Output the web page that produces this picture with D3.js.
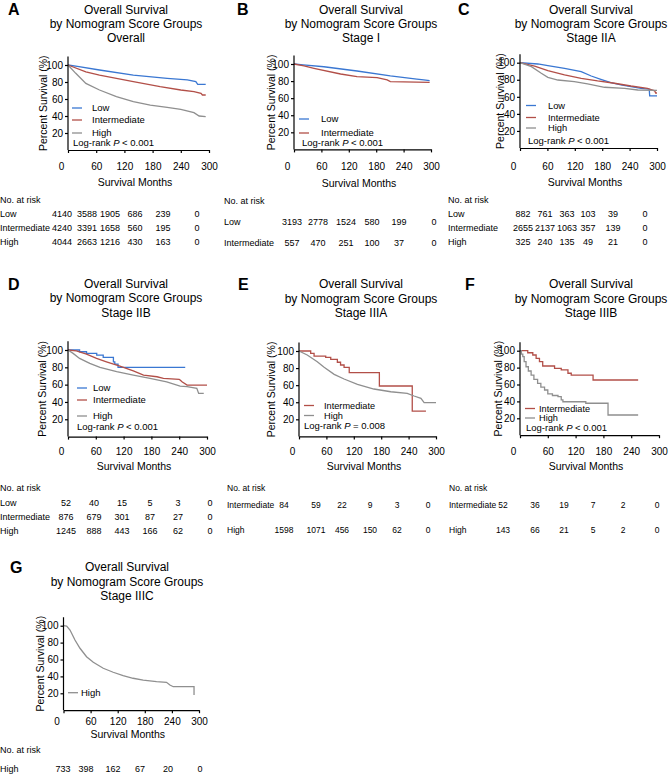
<!DOCTYPE html>
<html><head><meta charset="utf-8">
<script src="https://cdn.jsdelivr.net/npm/d3@7"></script>
<style>body{margin:0;background:#fff} svg{font-family:"Liberation Sans",Arial,sans-serif}</style>
</head><body><svg id="c" width="671" height="775"></svg>
<script>
// ---------- DATA ----------
const monthTicks = [0, 60, 120, 180, 240, 300];
const pctTicks = [20, 40, 60, 80, 100];
const titleLine1 = "Overall Survival";
const titleLine2 = "by Nomogram Score Groups";
const subtitles = ["Overall", "Stage I", "Stage IIA", "Stage IIB", "Stage IIIA", "Stage IIIB", "Stage IIIC"];
const panelLetters = ["A", "B", "C", "D", "E", "F", "G"];
const pValues = ["< 0.001", "< 0.001", "< 0.001", "< 0.001", "= 0.008", "< 0.001", null];
const groupNames = ["Low", "Intermediate", "High"];

// survival curves: [month, percent]
const A_low  = [[0,100],[20,98.5],[67,94.1],[139,88.2],[211,84.3],[254,82.4],[272,80.4],[276,77.3],[293,77.3]];
const A_int  = [[0,100],[38,92],[67,88.2],[139,80.4],[196,74.5],[240,70.6],[268,68.6],[283,66.7],[286,64.7],[293,64.7]];
const A_high = [[0,100],[16.5,90.2],[38,78.4],[67,70.6],[103,62.7],[139,56.9],[175,52.9],[211,50.2],[240,47.8],[268,43.9],[279,40],[293,39.2]];

const B_low  = [[0,100],[20,99],[65.5,96.8],[138,91.8],[211,86],[269,82.4],[284,81.3],[297,80.5]];
const B_int  = [[0,100],[22,97.7],[43.7,95],[102,88.3],[138,85.2],[182,84],[204,81.3],[211,79.3],[297,78.5]];

const C_low  = [[0,100],[39,98.5],[61,96.5],[97.5,93.4],[134,89.5],[156,84.4],[177,80.5],[199,76.6],[221,73.9],[265,70],[283,68.9],[284,61],[300,61]];
const C_int  = [[0,100],[32,96.1],[61,90.6],[97.5,85.6],[134,81.7],[170,78.6],[207,75.9],[243,72.7],[279,70],[295,67],[297,64.5],[300,64.5]];
const C_high = [[0,100],[25,95.3],[46.6,87.6],[61,82.9],[83,79.7],[119,77.8],[148,75.1],[185,71.2],[229,70],[258,68],[300,67.5]];

const D_low  = [[0,100],[25,98],[40,96],[62,94],[76,91.5],[98,86.4],[101,83.7],[108,80],[253,80]];
const D_int  = [[0,100],[18,99],[40,95.3],[61.6,90.3],[83,86.4],[112,81.4],[141,76],[163,71.1],[192,69.1],[206,67.2],[240,66],[242,65.3],[246,63.3],[257,59.5],[300,59.5]];
const D_high = [[0,100],[11,96.1],[25,90.3],[47,84.5],[69,79.9],[105,74.9],[141,71.1],[177,67.2],[213,63.3],[242,58.4],[257,57.6],[278,55.7],[282,49.9],[293,49.9]];

const E_int  = [[0,100],[25.6,97.3],[33,94.1],[58.5,92.6],[69.5,90.3],[84,86.8],[91,83.6],[98.7,80.9],[110,74.6],[176,59],[248,29.7],[278,29.7]];
const E_high = [[0,100],[18,95.3],[40,87.5],[55,80.9],[77,72.7],[98.7,67.2],[128,61],[164,55.5],[201,52.3],[237,50.4],[252,47.3],[267,44.6],[274,39.5],[300,39.5]];

const F_int  = [[0,100],[16.7,97.6],[27.6,94.9],[34.8,91],[42,87],[49,81.9],[74.6,79.2],[89,77.2],[103.5,73.3],[110.6,71.2],[157.7,65.3],[255,65.3]];
const F_high = [[0,100],[3,96],[6,92.9],[9,87],[13,81],[18,76],[24,71.2],[30,66],[38,61.4],[45,57],[53,53.5],[60,48.8],[70,47],[82,45.6],[89,41.7],[92.6,39.6],[142,37.8],[190,23.9],[255,23.9]];

const G_high = [[0,100],[7,99.6],[14.4,94.9],[25.4,83.1],[36.5,73.3],[51,63.3],[66,56.7],[88,49.6],[110,44.9],[132,40.8],[154,37.8],[176.5,35.7],[206,33.7],[228,33],[235.6,29.8],[243,27.8],[289,27.8],[289,18]];

// numbers at risk at monthTicks
const A_risk_low  = [4140, 3588, 1905, 686, 239, 0];
const A_risk_int  = [4240, 3391, 1658, 560, 195, 0];
const A_risk_high = [4044, 2663, 1216, 430, 163, 0];
const B_risk_low  = [3193, 2778, 1524, 580, 199, 0];
const B_risk_int  = [557, 470, 251, 100, 37, 0];
const C_risk_low  = [882, 761, 363, 103, 39, 0];
const C_risk_int  = [2655, 2137, 1063, 357, 139, 0];
const C_risk_high = [325, 240, 135, 49, 21, 0];
const D_risk_low  = [52, 40, 15, 5, 3, 0];
const D_risk_int  = [876, 679, 301, 87, 27, 0];
const D_risk_high = [1245, 888, 443, 166, 62, 0];
const E_risk_int  = [84, 59, 22, 9, 3, 0];
const E_risk_high = [1598, 1071, 456, 150, 62, 0];
const F_risk_int  = [52, 36, 19, 7, 2, 0];
const F_risk_high = [143, 66, 21, 5, 2, 0];
const G_risk_high = [733, 398, 162, 67, 20, 0];

// ---------- STYLE / LAYOUT ----------
const COLORS = {Low: "#3a77d2", Intermediate: "#b24f48", High: "#8f8f8f"};

const panels = [
  {i:0, lx:8,   ly:9,   tcx:126, ty:[10,24,38],   x0:68,  x1:209, y100:65,   y0:150,
   ytx:43, series:[["Low",A_low,"l"],["Intermediate",A_int,"l"],["High",A_high,"l"]],
   leg:{lx:72, tx:92, ys:[108,120,133], fs:9.5}, lr:{x:73,y:143},
   tickY:166, smY:182, narY:200, rowX:0, rowYs:[214,228,242], cols:[62,87,110,135,163,197], tf:9,
   risk:[["Low",A_risk_low],["Intermediate",A_risk_int],["High",A_risk_high]]},
  {i:1, lx:237, ly:9,   tcx:361, ty:[10,23.5,38], x0:294, x1:431, y100:64,   y0:149.4,
   ytx:271, series:[["Low",B_low,"l"],["Intermediate",B_int,"l"]],
   leg:{lx:299, tx:321, ys:[119,133], fs:9.5}, lr:{x:302,y:143},
   tickY:166, smY:183, narY:201, rowX:224, rowYs:[222,243], cols:[292,318,346,372,399,434], tf:9,
   risk:[["Low",B_risk_low],["Intermediate",B_risk_int]]},
  {i:2, lx:458, ly:9,   tcx:591, ty:[10,24,38],   x0:520, x1:657, y100:62.7, y0:148,
   ytx:500, series:[["Low",C_low,"l"],["Intermediate",C_int,"l"],["High",C_high,"l"]],
   leg:{lx:526, tx:548, ys:[105.5,117.5,128], fs:9.3}, lr:{x:528,y:141},
   tickY:166, smY:182, narY:200, rowX:448, rowYs:[214,228,242], cols:[523,545,567,588,613,645], tf:9,
   risk:[["Low",C_risk_low],["Intermediate",C_risk_int],["High",C_risk_high]]},
  {i:3, lx:8,   ly:284, tcx:126, ty:[284,298,313], x0:68, x1:207, y100:350, y0:436.6,
   ytx:42, series:[["Low",D_low,"s"],["Intermediate",D_int,"l"],["High",D_high,"l"]],
   leg:{lx:77, tx:93, ys:[388,400,416], fs:9.5}, lr:{x:77,y:427},
   tickY:451, smY:466, narY:488, rowX:0, rowYs:[503,517,531], cols:[66,94,122,150,178,210], tf:9,
   risk:[["Low",D_risk_low],["Intermediate",D_risk_int],["High",D_risk_high]]},
  {i:4, lx:238, ly:284, tcx:361, ty:[284,299,313], x0:299, x1:436, y100:351, y0:436.4,
   ytx:271, series:[["Intermediate",E_int,"s"],["High",E_high,"l"]],
   leg:{lx:304, tx:324, ys:[405.5,415.5], fs:9.2}, lr:{x:304,y:426},
   tickY:451, smY:466, narY:488, rowX:227, rowYs:[505,530], cols:[284,316,342,370,397,428], tf:8.5,
   risk:[["Intermediate",E_risk_int],["High",E_risk_high]]},
  {i:5, lx:465, ly:284, tcx:591, ty:[284,299,313], x0:520, x1:659, y100:350.7, y0:435.2,
   ytx:498, series:[["Intermediate",F_int,"s"],["High",F_high,"s"]],
   leg:{lx:525, tx:539, ys:[408.5,418], fs:9.2}, lr:{x:526,y:427.5},
   tickY:451, smY:466, narY:488, rowX:449, rowYs:[505,530], cols:[503,535,564,593,623,657], tf:8.5,
   risk:[["Intermediate",F_risk_int],["High",F_risk_high]]},
  {i:6, lx:10,  ly:567, tcx:127, ty:[567,582,596], x0:63.5, x1:199, y100:625.7, y0:710.2,
   ytx:40, series:[["High",G_high,"l"]],
   leg:{lx:68, tx:81, ys:[692.7], fs:9.5}, lr:null,
   tickY:721.5, smY:734, narY:750, rowX:0, rowYs:[769], cols:[63,86,113,140,168,200], tf:9,
   risk:[["High",G_risk_high]]}
];

const svg = d3.select("#c");

panels.forEach(p => {
  const g = svg.append("g");
  g.append("text").attr("x", p.lx).attr("y", p.ly).attr("dy", "0.35em")
    .attr("font-size", 16).attr("font-weight", "bold").text(panelLetters[p.i]);
  [titleLine1, titleLine2, subtitles[p.i]].forEach((t, k) => {
    g.append("text").attr("x", p.tcx).attr("y", p.ty[k]).attr("dy", "0.35em")
      .attr("text-anchor", "middle").attr("font-size", 12).text(t);
  });

  const x = d3.scaleLinear().domain([0, 300]).range([p.x0, p.x1]);
  const y = d3.scaleLinear().domain([0, 100]).range([p.y0, p.y100]);

  p.series.forEach(([name, data, kind]) => {
    const line = d3.line().x(d => x(d[0])).y(d => y(d[1]))
      .curve(kind === "s" ? d3.curveStepAfter : d3.curveLinear);
    g.append("path").datum(data).attr("d", line).attr("fill", "none")
      .attr("stroke", COLORS[name]).attr("stroke-width", 1.3);
  });

  const ya = g.append("g").attr("transform", `translate(${p.x0},0)`)
    .call(d3.axisLeft(y).tickValues(pctTicks).tickSize(3).tickSizeOuter(0).tickPadding(2));
  ya.select(".domain").attr("d", `M0,${p.y0}V${y(110)}`);
  const xa = g.append("g").attr("transform", `translate(0,${p.y0})`)
    .call(d3.axisBottom(x).tickValues(monthTicks).tickSize(3).tickSizeOuter(0).tickFormat(d3.format("d")));
  [ya, xa].forEach(a => {
    a.select(".domain").attr("stroke", "#000").attr("stroke-width", 1.2);
    a.selectAll(".tick line").attr("stroke", "#000").attr("stroke-width", 1.2);
    a.selectAll("text").attr("font-family", "Liberation Sans, Arial, sans-serif").attr("font-size", 10).attr("fill", "#000");
  });
  xa.selectAll(".tick text").attr("y", null).attr("dy", "0.35em")
    .attr("transform", d => `translate(${d === 0 ? -7 : 0},${p.tickY - p.y0})`);

  g.append("text").attr("transform", `translate(${p.ytx},${(p.y0 + y(110)) / 2}) rotate(-90)`)
    .attr("dy", "0.35em").attr("text-anchor", "middle").attr("font-size", 10.5).text("Percent Survival (%)");
  g.append("text").attr("x", (p.x0 + p.x1) / 2 - 3.5).attr("y", p.smY).attr("dy", "0.35em")
    .attr("text-anchor", "middle").attr("font-size", 10.5).text("Survival Months");

  p.series.forEach(([name], k) => {
    const ly = p.leg.ys[k];
    g.append("line").attr("x1", p.leg.lx).attr("x2", p.leg.lx + 10).attr("y1", ly).attr("y2", ly)
      .attr("stroke", COLORS[name]).attr("stroke-width", 1.3);
    g.append("text").attr("x", p.leg.tx).attr("y", ly).attr("dy", "0.35em").attr("font-size", p.leg.fs).text(name);
  });
  if (p.lr) {
    const t = g.append("text").attr("x", p.lr.x).attr("y", p.lr.y).attr("dy", "0.35em").attr("font-size", 9.5);
    t.append("tspan").text("Log-rank ");
    t.append("tspan").attr("font-style", "italic").text("P");
    t.append("tspan").text(" " + pValues[p.i]);
  }

  g.append("text").attr("x", p.rowX).attr("y", p.narY).attr("dy", "0.35em").attr("font-size", p.tf).text("No. at risk");
  p.risk.forEach(([name, vals], k) => {
    const ry = p.rowYs[k];
    g.append("text").attr("x", p.rowX).attr("y", ry).attr("dy", "0.35em").attr("font-size", p.tf).text(name);
    vals.forEach((v, j) => {
      g.append("text").attr("x", p.cols[j]).attr("y", ry).attr("dy", "0.35em")
        .attr("text-anchor", "middle").attr("font-size", p.tf).text(v);
    });
  });
});
</script></body></html>
